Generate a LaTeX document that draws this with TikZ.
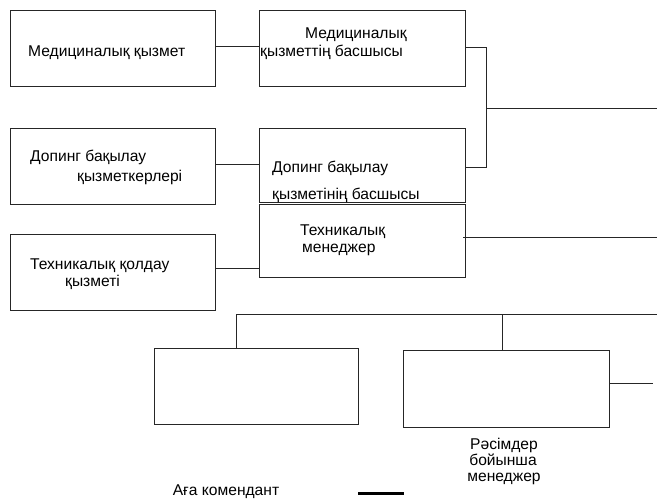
\documentclass[tikz,border=0pt]{standalone}
\usepackage{fontspec}
\setmainfont{Liberation Sans}
\begin{document}
\begin{tikzpicture}[x=1pt,y=-1pt,
  box/.style={draw=black!85, line width=0.8pt, inner sep=0, anchor=north west},
  lbl/.style={font=\fontsize{15.6}{18}\selectfont, inner sep=0, anchor=base west},
  clbl/.style={lbl, anchor=base},
  link/.style={draw=black!85, line width=0.8pt}]
\useasboundingbox (0,0) rectangle (657,499);

% boxes
\node[box, minimum width=205pt, minimum height=76pt] (A) at (10,10) {};
\node[box, minimum width=206pt, minimum height=76pt] (B) at (259,10) {};
\node[box, minimum width=205pt, minimum height=76pt] (C) at (10,128) {};
\node[box, minimum width=206pt, minimum height=73.5pt] (D) at (259,128) {};
\node[box, minimum width=206pt, minimum height=73pt] (E) at (259,204) {};
\node[box, minimum width=205pt, minimum height=76pt] (F) at (10,234) {};
\node[box, minimum width=204pt, minimum height=76pt] (G) at (154,348) {};
\node[box, minimum width=206pt, minimum height=77pt] (H) at (403,350) {};

% labels (positions are text baselines)
\node[lbl] (tA) at (28,56) {Медициналық қызмет};
\node[lbl] (tB1) at (305,38) {Медициналық};
\node[lbl] (tB2) at (260,56) {қызметтің басшысы};
\node[lbl] (tC1) at (30,161) {Допинг бақылау};
\node[lbl] (tC2) at (77,181) {қызметкерлері};
\node[lbl] (tD1) at (272,172) {Допинг бақылау};
\node[lbl] (tD2) at (272,199) {қызметінің басшысы};
\node[lbl] (tE1) at (300,235) {Техникалық};
\node[lbl] (tE2) at (302,252) {менеджер};
\node[lbl] (tF1) at (30,269) {Техникалық қолдау};
\node[lbl] (tF2) at (65,286) {қызметі};
\node[clbl] (tH1) at (504,449) {Рәсімдер};
\node[clbl] (tH2) at (503,465) {бойынша};
\node[clbl] (tH3) at (504,481) {менеджер};
\node[clbl] (tK) at (226,495) {Аға комендант};

% junction points
\coordinate (yAB) at (0,46);
\coordinate (yCD) at (0,164);
\coordinate (yEF) at (0,268);
\coordinate (J1) at (486,47);
\coordinate (J2) at (486,167);
\coordinate (Jm) at (486,108);
\coordinate (R1) at (657,108);
\coordinate (R2) at (657,237);
\coordinate (Eo) at (463,237);
\coordinate (BusL) at (236,314);
\coordinate (BusR) at (657,314);
\coordinate (BusH) at (502,314);
\coordinate (Ho) at (653,383);

% connectors
\draw[link] (A.east |- yAB) -- (B.west |- yAB);
\draw[link] (C.east |- yCD) -- (D.west |- yCD);
\draw[link] (F.east |- yEF) -- (E.west |- yEF);
\draw[link] (B.east |- J1) -- (J1) -- (J2) -- (D.east |- J2);
\draw[link] (Jm) -- (R1);
\draw[link] (Eo) -- (R2);
\draw[link] (BusL) -- (BusR);
\draw[link] (BusL) -- (G.north -| BusL);
\draw[link] (BusH) -- (H.north -| BusH);
\draw[link] (H.east |- Ho) -- (Ho);

% short heavy bar
\draw[line width=3pt] (358,493.5) -- (404,493.5);
\end{tikzpicture}
\end{document}
